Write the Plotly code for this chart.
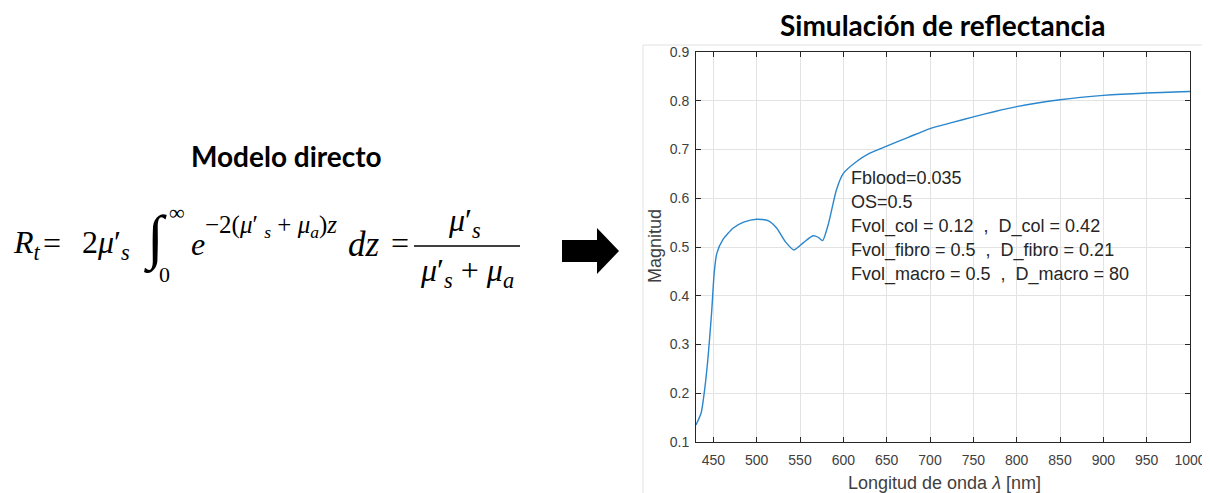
import plotly.graph_objects as go

# ---------------- data ----------------
wavelength = [430, 436, 440, 444, 448, 451, 454, 461, 473, 485, 500, 513, 523, 533,
              543, 554, 565, 571, 576, 583, 592, 600, 615, 630, 650, 675, 700, 725,
              750, 775, 800, 850, 900, 950, 1000]
magnitude = [0.135, 0.160, 0.208, 0.276, 0.365, 0.447, 0.487, 0.515, 0.539, 0.551,
             0.557, 0.554, 0.539, 0.511, 0.494, 0.509, 0.523, 0.520, 0.513, 0.549,
             0.617, 0.651, 0.675, 0.692, 0.707, 0.725, 0.743, 0.755, 0.767, 0.778,
             0.788, 0.802, 0.811, 0.816, 0.819]

x_ticks = [450, 500, 550, 600, 650, 700, 750, 800, 850, 900, 950, 1000]
y_ticks = [0.1, 0.2, 0.3, 0.4, 0.5, 0.6, 0.7, 0.8, 0.9]

param_lines = [
    "Fblood=0.035",
    "OS=0.5",
    "Fvol_col = 0.12  ,  D_col = 0.42",
    "Fvol_fibro = 0.5  ,  D_fibro = 0.21",
    "Fvol_macro = 0.5  ,  D_macro = 80",
]

title_text = "Simulación de reflectancia"
left_title = "Modelo directo"
x_title = "Longitud de onda <i>λ</i> [nm]"
y_title = "Magnitud"

# ---------------- layout geometry ----------------
W, H = 1210, 493
OFF = 8  # page body margin
# plot area, in page pixels
PL, PR, PT, PB = 696, 1190, 52, 442
PLf, PRf, PTf, PBf = PL - OFF, PR - OFF, PT - OFF, PB - OFF


def px(x):
    return (x - OFF - PLf) / (PRf - PLf)


def py(y):
    return (PBf - (y - OFF)) / (PBf - PTf)


fig = go.Figure()
fig.add_trace(go.Scatter(
    x=wavelength, y=magnitude, mode="lines",
    line=dict(color="#2a86cd", width=1.4, shape="spline", smoothing=0.6),
    showlegend=False, hoverinfo="skip",
))

axis_common = dict(
    showline=True, linecolor="#262626", linewidth=1, mirror="ticks",
    ticks="inside", ticklen=5, tickcolor="#262626", tickwidth=1,
    showgrid=True, gridcolor="#e3e3e3", gridwidth=1, zeroline=False,
    automargin=False,
    tickfont=dict(family="Liberation Sans", size=14, color="#404040"),
)

fig.update_layout(
    width=W, height=H,
    margin=dict(l=PLf, r=W - PRf, t=PTf, b=H - PBf, pad=0, autoexpand=False),
    paper_bgcolor="white", plot_bgcolor="white",
    xaxis=dict(range=[430, 1000], tickvals=x_ticks, ticklabelstandoff=5, **axis_common),
    yaxis=dict(range=[0.1, 0.9], tickvals=y_ticks, tickformat=".1f",
               ticklabelstandoff=3, **axis_common),
)

annotations = []


def ann(text, x, y, size, family="Liberation Sans", color="black", xanchor="left",
        yanchor="middle", angle=0):
    annotations.append(dict(
        text=text, x=px(x), y=py(y), xref="paper", yref="paper",
        xanchor=xanchor, yanchor=yanchor, showarrow=False, textangle=angle,
        font=dict(family=family, size=size, color=color),
    ))


# parameter text inside the plot
for i, line in enumerate(param_lines):
    ann(line, 849, 178 + i * 24.2, 18, color="#262626")

# axis titles
ann(x_title, 944, 483, 18, color="#404040", xanchor="center")
ann(y_title, 655, 246, 18, color="#404040", xanchor="center", angle=-90)

# titles
ann("<b>" + title_text + "</b>", 942, 25, 28, family="Lato", xanchor="center")
ann("<b>" + left_title + "</b>", 286, 156, 28, family="Lato", xanchor="center")

# equation
MF = "Liberation Serif"
S = 32
ann("<i>R</i><sub><i>t</i></sub>", 11, 244, S, MF)
ann("=", 41, 243, S, MF)
ann("2<i>μ</i>′<sub><i>s</i></sub>", 80, 244, S, MF)
ann("∫", 155, 239, 60, MF, xanchor="center")
ann("∞", 167, 212, 22, MF)
ann("0", 157, 274, 22, MF)
ann("<i>e</i>", 189, 244, S, MF)
ann("−2(<i>μ</i>′ <sub><i>s</i></sub> + <i>μ</i><sub><i>a</i></sub>)<i>z</i>",
    203, 226, 25, MF)
ann("<i>dz</i>", 346, 244, 35, MF)
ann("=", 389, 243, S, MF)
ann("<i>μ</i>′<sub><i>s</i></sub>", 464, 222, S, MF, xanchor="center")
ann("<i>μ</i>′<sub><i>s</i></sub> + <i>μ</i><sub><i>a</i></sub>", 467, 272, S, MF,
    xanchor="center")

fig.update_layout(annotations=annotations)

# shapes: figure frame, fraction bar, arrow
shapes = [
    dict(type="rect", xref="paper", yref="paper",
         x0=px(643), x1=px(1240), y0=py(45), y1=py(530),
         line=dict(color="#e2e2e2", width=1), fillcolor="rgba(0,0,0,0)", layer="below"),
    dict(type="line", xref="paper", yref="paper",
         x0=px(414), x1=px(520), y0=py(246), y1=py(246),
         line=dict(color="black", width=1.5)),
]
arrow_pts = [(562, 240), (597, 240), (597, 228), (619, 251), (597, 274), (597, 262), (562, 262)]
path = "M " + " L ".join(f"{px(a):.5f},{py(b):.5f}" for a, b in arrow_pts) + " Z"
shapes.append(dict(type="path", xref="paper", yref="paper", path=path,
                   fillcolor="black", line=dict(color="black", width=0)))
fig.update_layout(shapes=shapes)

fig.write_html("out.html")
